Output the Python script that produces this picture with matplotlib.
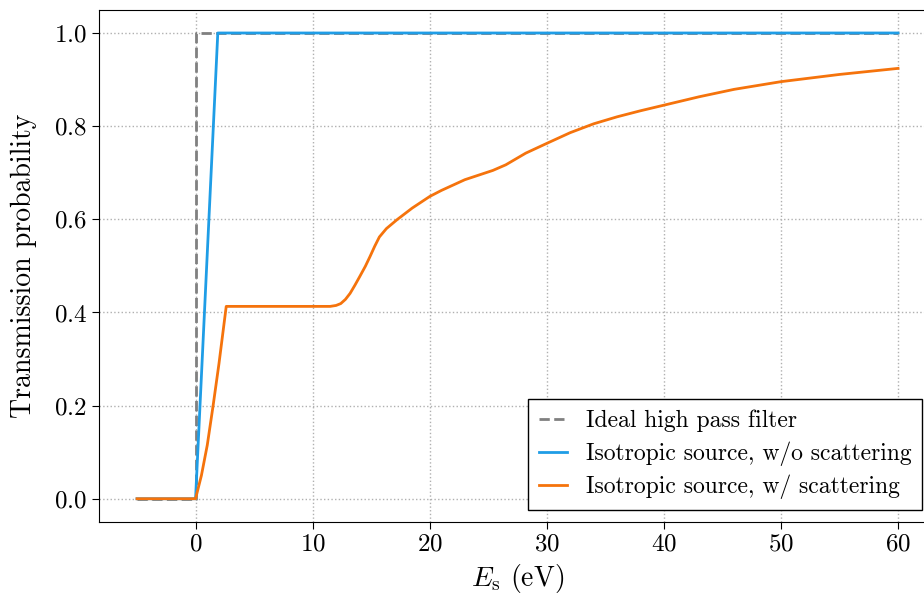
import numpy as np
import matplotlib.pyplot as plt

plt.rcParams['font.family'] = 'serif'
plt.rcParams['font.serif'] = ['cmr10']
plt.rcParams['mathtext.fontset'] = 'cm'
plt.rcParams['axes.formatter.use_mathtext'] = True
plt.rcParams['axes.unicode_minus'] = False

# Ideal high pass filter: step at 0 eV
x_ideal = [-5, 0, 0, 60]
y_ideal = [0, 0, 1, 1]

# Isotropic source without scattering
x_iso = [-5, 0, 1.9, 60]
y_iso = [0, 0, 1, 1]

# Isotropic source with scattering
x_scat = [-5, 0, 0.5, 1.0, 1.5, 2.0, 2.62, 6, 11.5, 12.0, 12.4, 12.8, 13.2,
          13.6, 14.0, 14.5, 14.9, 15.3, 15.7, 16.3, 17.2, 18.5, 20, 21, 23,
          25.4, 26.5, 28.2, 30, 32, 34, 36, 38, 40, 43, 46, 50, 55, 60]
y_scat = [0, 0, 0.05, 0.115, 0.2, 0.29, 0.413, 0.413, 0.413, 0.415, 0.419,
          0.428, 0.441, 0.458, 0.476, 0.499, 0.52, 0.542, 0.562, 0.580, 0.599,
          0.624, 0.649, 0.662, 0.685, 0.705, 0.717, 0.742, 0.763, 0.786,
          0.805, 0.820, 0.833, 0.845, 0.863, 0.879, 0.8955, 0.911, 0.924]

fig = plt.figure(figsize=(9.24, 5.99), dpi=100)
ax = fig.add_axes([0.1071, 0.1285, 0.906, 0.8553])

ax.plot(x_ideal, y_ideal, '--', color='gray', lw=2, label='Ideal high pass filter')
ax.plot(x_iso, y_iso, color='#1f9de6', lw=2, label='Isotropic source, w/o scattering')
ax.plot(x_scat, y_scat, color='#f5730c', lw=2, label='Isotropic source, w/ scattering')

ax.set_xticks([0, 10, 20, 30, 40, 50, 60])
ax.set_yticks([0.0, 0.2, 0.4, 0.6, 0.8, 1.0])
ax.tick_params(labelsize=18, length=5)
ax.grid(True, linestyle=':', color='#b0b0b0', lw=1)

ax.set_xlabel(r'$E_\mathrm{s}$ (eV)', fontsize=20)
ax.set_ylabel('Transmission probability', fontsize=20, labelpad=12)

leg = ax.legend(loc='lower right', bbox_to_anchor=(0.998, 0.1486),
                bbox_transform=fig.transFigure, borderaxespad=0,
                fontsize=17, fancybox=False, framealpha=1, edgecolor='black',
                handlelength=1.2, handletextpad=0.8, labelspacing=0.38,
                borderpad=0.45)
leg.get_frame().set_linewidth(1.0)

fig.savefig('out.png', dpi=100)
